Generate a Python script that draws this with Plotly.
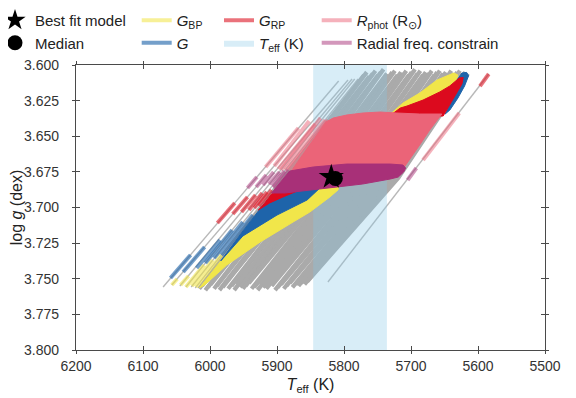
import plotly.graph_objects as go

# ---------------- axes / ticks ----------------
x_ticks = [6200, 6100, 6000, 5900, 5800, 5700, 5600, 5500]
y_ticks = [3.600, 3.625, 3.650, 3.675, 3.700, 3.725, 3.750, 3.775, 3.800]
x_range = [6200, 5500]
y_range = [3.800, 3.600]

# Teff constraint (K)
teff_lo = 5736
teff_hi = 5846

# best fit model and median
best_T = [5819]
best_g = [3.6786]
median_T = [5813]
median_g = [3.6797]

# ---------------- evolutionary tracks ----------------
# sparse tracks (left fringe + right outlier): bottom and top end points
sparse_T_bottom = [6070, 6057, 6045, 6036, 6028, 6022, 5824]
sparse_g_bottom = [3.7558, 3.7544, 3.7551, 3.7558, 3.7558, 3.7565, 3.7523]
sparse_T_top = [5808, 5794, 5788, 5784, 5779, 5775, 5584]
sparse_g_top = [3.6112, 3.6105, 3.6098, 3.6098, 3.6098, 3.6091, 3.6063]

# dense bundle of tracks: bottom, middle and top points
dense_T_bottom = [6016, 6012, 6007, 6003, 5999, 5994, 5990, 5986, 5981, 5977,
                  5973, 5968, 5964, 5960, 5955, 5951, 5947, 5942, 5938, 5934,
                  5929, 5925, 5921, 5916, 5912, 5908, 5903, 5899, 5894, 5890,
                  5886, 5881, 5877, 5872, 5868, 5864, 5859, 5855]
dense_g_bottom = [3.757, 3.755, 3.758, 3.756, 3.754, 3.757, 3.755, 3.758, 3.756, 3.753,
                  3.757, 3.755, 3.758, 3.754, 3.756, 3.757, 3.755, 3.753, 3.757, 3.756,
                  3.758, 3.754, 3.756, 3.757, 3.753, 3.755, 3.758, 3.756, 3.754, 3.757,
                  3.755, 3.753, 3.756, 3.754, 3.755, 3.753, 3.754, 3.752]
dense_T_mid = [5890, 5885, 5881, 5876, 5871, 5867, 5862, 5857, 5853, 5848,
               5844, 5839, 5834, 5830, 5825, 5820, 5816, 5811, 5807, 5802,
               5797, 5793, 5788, 5783, 5779, 5774, 5769, 5765, 5760, 5756,
               5751, 5746, 5742, 5737, 5733, 5728, 5724, 5719]
dense_g_mid = 3.6793
dense_T_top = [5770, 5766, 5762, 5757, 5753, 5749, 5745, 5741, 5736, 5732,
               5728, 5724, 5720, 5715, 5711, 5707, 5703, 5699, 5694, 5690,
               5686, 5682, 5678, 5673, 5669, 5665, 5661, 5657, 5652, 5648,
               5644, 5640, 5636, 5631, 5627, 5623, 5619, 5615]
dense_g_top = [3.607, 3.605, 3.608, 3.606, 3.604, 3.607, 3.605, 3.603, 3.606, 3.608,
               3.605, 3.604, 3.607, 3.605, 3.606, 3.604, 3.607, 3.605, 3.603, 3.606,
               3.604, 3.607, 3.605, 3.606, 3.604, 3.607, 3.605, 3.604, 3.606, 3.605,
               3.607, 3.604, 3.606, 3.605, 3.604, 3.606, 3.605, 3.606]

# ---------------- constraint regions inside the dense bundle (outlines) ----------------
gbp_poly_T = [[6016, 5984, 5951, 5900, 5855, 5828, 5806, 5809, 5821, 5851, 5876, 5925, 5975, 6008],
              [5734, 5712, 5687, 5661, 5636, 5630, 5636, 5649, 5672, 5702, 5724]]
gbp_poly_g = [[3.7565, 3.7375, 3.7200, 3.7053, 3.6947, 3.6828, 3.6793, 3.6877, 3.6926, 3.7032, 3.7102, 3.7242, 3.7404, 3.7544],
              [3.6358, 3.6267, 3.6197, 3.6105, 3.6056, 3.6070, 3.6161, 3.6246, 3.6316, 3.6365, 3.6386]]

g_poly_T = [[5984, 5969, 5952, 5922, 5915, 5876, 5851, 5828, 5855, 5900, 5951],
            [5632, 5624, 5617, 5614, 5620, 5630, 5642, 5649, 5640]]
g_poly_g = [[3.7375, 3.7277, 3.7172, 3.6990, 3.6968, 3.6898, 3.6856, 3.6828, 3.6947, 3.7053, 3.7200],
            [3.6110, 3.6056, 3.6052, 3.6075, 3.6147, 3.6232, 3.6316, 3.6344, 3.6246]]

grp_poly_T = [[5928, 5922, 5908, 5881, 5851, 5866, 5891, 5911],
              [5728, 5716, 5706, 5682, 5657, 5642, 5628, 5622, 5624, 5634, 5645, 5652, 5687, 5716]]
grp_poly_g = [[3.7018, 3.6990, 3.6905, 3.6856, 3.6835, 3.6877, 3.6926, 3.6968],
              [3.6344, 3.6302, 3.6288, 3.6246, 3.6189, 3.6147, 3.6091, 3.6088, 3.6133, 3.6211, 3.6302, 3.6358, 3.6358, 3.6358]]

rphot_poly_T = [[5881, 5827, 5816, 5796, 5772, 5746, 5721, 5687, 5654, 5672, 5687, 5705, 5711, 5731, 5796, 5846, 5881]]
rphot_poly_g = [[3.6758, 3.6400, 3.6372, 3.6351, 3.6337, 3.6330, 3.6337, 3.6344, 3.6344, 3.6456, 3.6561, 3.6688, 3.6723, 3.6723, 3.6723, 3.6744, 3.6772]]

rad_poly_T = [[5908, 5881, 5846, 5796, 5731, 5712, 5708, 5711, 5719, 5731, 5772, 5836, 5888]]
rad_poly_g = [[3.6898, 3.6744, 3.6716, 3.6695, 3.6695, 3.6702, 3.6723, 3.6751, 3.6786, 3.6800, 3.6835, 3.6870, 3.6898]]

# ---------------- constraint pieces on the sparse tracks ----------------
gbp_seg_T0 = [6057, 6044, 6036, 6027, 6021]
gbp_seg_g0 = [3.7544, 3.7544, 3.7558, 3.7551, 3.7558]
gbp_seg_T1 = [6049, 6032, 6009, 5996, 5983]
gbp_seg_g1 = [3.7502, 3.7481, 3.7404, 3.7369, 3.7333]

g_seg_T0 = [6059, 6040, 6020, 6007, 5994, 5983]
g_seg_g0 = [3.7495, 3.7453, 3.7425, 3.7390, 3.7355, 3.7333]
g_seg_T1 = [6029, 6008, 5985, 5967, 5951, 5936]
g_seg_g1 = [3.7333, 3.7277, 3.7228, 3.7158, 3.7102, 3.7053]

grp_seg_T0 = [5989, 5966, 5953, 5942, 5934, 5927, 5584]
grp_seg_g0 = [3.7109, 3.7046, 3.7032, 3.7018, 3.7004, 3.6989, 3.6063]
grp_seg_T1 = [5963, 5944, 5932, 5922, 5915, 5908, 5597]
grp_seg_g1 = [3.6968, 3.6926, 3.6912, 3.6898, 3.6891, 3.6877, 3.6148]

rphot_seg_T0 = [5917, 5904, 5898, 5894, 5888, 5883, 5628]
rphot_seg_g0 = [3.6716, 3.6709, 3.6730, 3.6737, 3.6737, 3.6737, 3.6337]
rphot_seg_T1 = [5868, 5852, 5843, 5835, 5828, 5824, 5682]
rphot_seg_g1 = [3.6442, 3.6393, 3.6414, 3.6372, 3.6386, 3.6386, 3.6667]

rad_seg_T0 = [5944, 5931, 5921, 5912, 5907, 5905, 5692]
rad_seg_g0 = [3.6863, 3.6856, 3.6842, 3.6835, 3.6849, 3.6863, 3.6723]
rad_seg_T1 = [5930, 5916, 5905, 5896, 5889, 5883, 5705]
rad_seg_g1 = [3.6786, 3.6772, 3.6751, 3.6751, 3.6744, 3.6737, 3.6807]

# ---------------- helpers ----------------
def join_segments(T0, g0, T1, g1):
    xs, ys = [], []
    for a, b, c, d in zip(T0, g0, T1, g1):
        xs += [a, c, None]
        ys += [b, d, None]
    return xs, ys

def join_polys(Ts, gs):
    xs, ys = [], []
    for tl, gl in zip(Ts, gs):
        xs += list(tl) + [tl[0], None]
        ys += list(gl) + [gl[0], None]
    return xs, ys

FONT = "Liberation Sans, Arial, Helvetica, sans-serif"

fig = go.Figure()

# tracks
sx, sy = join_segments(sparse_T_bottom, sparse_g_bottom, sparse_T_top, sparse_g_top)
fig.add_trace(go.Scatter(x=sx, y=sy, mode="lines", line=dict(color="#B8B8B8", width=1.4),
                         showlegend=False, hoverinfo="skip"))
dx, dy = [], []
for tb, gb, tm, tt, gt in zip(dense_T_bottom, dense_g_bottom, dense_T_mid, dense_T_top, dense_g_top):
    dx += [tb, tm, tt, None]
    dy += [gb, dense_g_mid, gt, None]
fig.add_trace(go.Scatter(x=dx, y=dy, mode="lines", line=dict(color="#AAAAAA", width=4.2),
                         showlegend=False, hoverinfo="skip"))

# Teff band
fig.add_trace(go.Scatter(x=[teff_hi, teff_lo, teff_lo, teff_hi], y=[y_range[1], y_range[1], y_range[0], y_range[0]],
                         mode="lines", fill="toself", fillcolor="rgba(135,200,230,0.32)",
                         line=dict(width=0, color="rgba(0,0,0,0)"),
                         name="<i>T</i><sub>eff</sub> (K)", legend="legend3", legendrank=2,
                         hoverinfo="skip"))

constraints = [
    ("gbp", "#F1E64A", "rgba(240,228,66,0.55)", "<i>G</i><sub>BP</sub>", "legend2", 1,
     gbp_poly_T, gbp_poly_g, gbp_seg_T0, gbp_seg_g0, gbp_seg_T1, gbp_seg_g1),
    ("g", "#1E64AA", "rgba(30,100,170,0.62)", "<i>G</i>", "legend2", 2,
     g_poly_T, g_poly_g, g_seg_T0, g_seg_g0, g_seg_T1, g_seg_g1),
    ("grp", "#DC0A1E", "rgba(220,20,35,0.6)", "<i>G</i><sub>RP</sub>", "legend3", 1,
     grp_poly_T, grp_poly_g, grp_seg_T0, grp_seg_g0, grp_seg_T1, grp_seg_g1),
    ("rphot", "#EB6478", "rgba(235,100,120,0.5)", "<i>R</i><sub>phot</sub> (R<sub>\u2299</sub>)", "legend4", 1,
     rphot_poly_T, rphot_poly_g, rphot_seg_T0, rphot_seg_g0, rphot_seg_T1, rphot_seg_g1),
    ("rad", "#A83078", "rgba(168,48,120,0.5)", "Radial freq. constrain", "legend4", 2,
     rad_poly_T, rad_poly_g, rad_seg_T0, rad_seg_g0, rad_seg_T1, rad_seg_g1),
]

for key, dense_c, light_c, label, leg, rank, pT, pg, T0, g0, T1, g1 in constraints:
    px, py = join_polys(pT, pg)
    fig.add_trace(go.Scatter(x=px, y=py, mode="lines", fill="toself", fillcolor=dense_c,
                             line=dict(color=dense_c, width=1), showlegend=False, hoverinfo="skip"))
    qx, qy = join_segments(T0, g0, T1, g1)
    fig.add_trace(go.Scatter(x=qx, y=qy, mode="lines", line=dict(color=light_c, width=4),
                             name=label, legend=leg, legendrank=rank, hoverinfo="skip"))

# best fit and median (on overlay axes, drawn on top)
fig.add_trace(go.Scatter(x=best_T, y=best_g, mode="markers", xaxis="x2", yaxis="y2",
                         marker=dict(symbol="star", size=19, color="black", line=dict(width=0)),
                         name="Best fit model", legend="legend", legendrank=1))
fig.add_trace(go.Scatter(x=median_T, y=median_g, mode="markers", xaxis="x2", yaxis="y2",
                         marker=dict(symbol="circle", size=15, color="black", line=dict(width=0)),
                         name="Median", legend="legend", legendrank=2))

axis_col = "#4A4A4A"
common = dict(showgrid=False, zeroline=False, showline=True, linecolor=axis_col, linewidth=1.3,
              tickcolor=axis_col, tickwidth=1.3, mirror="allticks")
tickfont = dict(family=FONT, size=14, color="#333333")

leg_common = dict(orientation="v", xanchor="left", yanchor="top", bgcolor="rgba(0,0,0,0)",
                  font=dict(family=FONT, size=15, color="#222222"), itemwidth=30,
                  traceorder="normal", tracegroupgap=0)

# plot area on screen: x 76..545, y 65..350 (page has an 8 px body margin)
def px2paper_x(p):
    return (p - 76) / 469.0

def px2paper_y(p):
    return (350 - p) / 285.0

fig.update_layout(
    width=576, height=398,
    margin=dict(l=68, r=39, t=57, b=56, autoexpand=False),
    paper_bgcolor="white", plot_bgcolor="white",
    font=dict(family=FONT, color="#222222"),
    xaxis=dict(range=x_range, tickvals=x_ticks, ticks="outside", ticklen=3,
               tickfont=tickfont, automargin=True,
               title=dict(text="<i>T</i><sub>eff</sub> (K)", font=dict(family=FONT, size=16, color="#222222"), standoff=5),
               **common),
    yaxis=dict(range=y_range, tickvals=y_ticks, tickformat=".3f", ticks="outside", ticklen=3,
               tickfont=tickfont, ticklabelstandoff=10, automargin=True,
               title=dict(text="log <i>g</i> (dex)", font=dict(family=FONT, size=16, color="#222222"), standoff=0),
               **common),
    xaxis2=dict(range=x_range, tickvals=x_ticks, ticks="inside", ticklen=4, showticklabels=False,
                overlaying="x", anchor="y2", side="bottom", **common),
    yaxis2=dict(range=y_range, tickvals=y_ticks, ticks="inside", ticklen=4, showticklabels=False,
                overlaying="y", anchor="x2", side="left", **common),
    legend=dict(x=px2paper_x(-5), y=px2paper_y(4), **leg_common),
    legend2=dict(x=px2paper_x(136.7), y=px2paper_y(4), **leg_common),
    legend3=dict(x=px2paper_x(219), y=px2paper_y(4), **leg_common),
    legend4=dict(x=px2paper_x(316.7), y=px2paper_y(4), **leg_common),
)

fig.write_html("out.html")
